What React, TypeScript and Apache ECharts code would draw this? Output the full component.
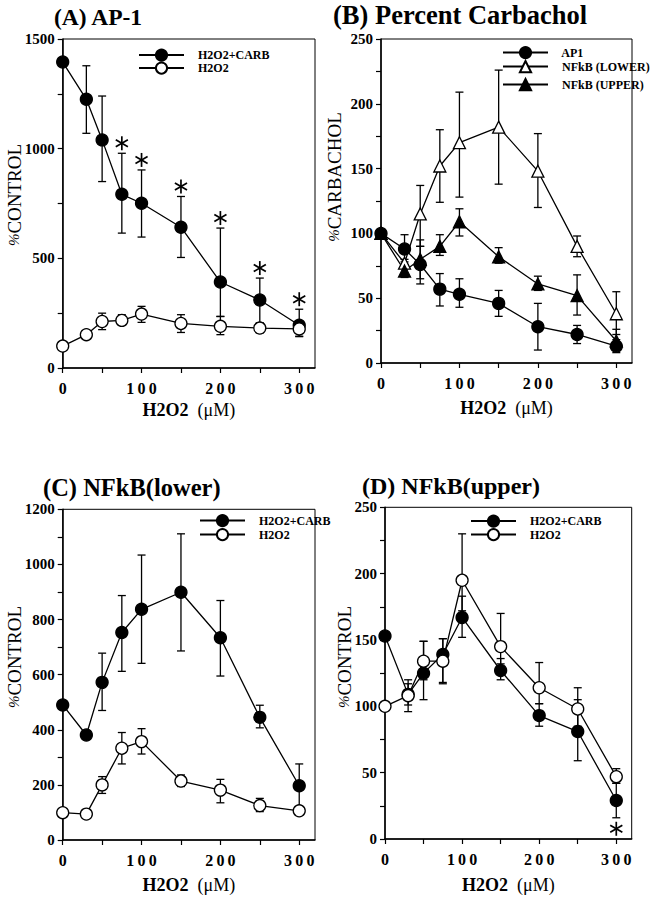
import React, { useEffect, useRef } from "react";
import * as echarts from "echarts";

// ---------- data ----------
const doses = [0, 30, 50, 75, 100, 150, 200, 250, 300];

// (A) AP-1, % control
const apCarb = [1395, 1225, 1040, 792, 751, 642, 392, 310, 195];
const apCarbHi = [1395, 1378, 1240, 979, 903, 782, 638, 410, 268];
const apCarbLo = [1395, 1070, 850, 615, 597, 504, 235, 205, 145];
const apH2o2 = [100, 152, 212, 217, 246, 203, 190, 182, 178];
const apH2o2Hi = [100, 170, 250, 243, 281, 243, 235, 205, 200];
const apH2o2Lo = [100, 140, 175, 197, 208, 162, 152, 160, 143];
const apStars = [75, 100, 150, 200, 250, 300];

// (B) Percent carbachol
const bAp1 = [100, 88, 76, 57, 53, 46, 28, 22, 13];
const bAp1Hi = [100, 99, 90, 69, 65, 56, 46, 29, 18];
const bAp1Lo = [100, 78, 61, 44, 43, 36, 10, 15, 8];
const bLower = [100, 77, 115, 152, 170, 182, 148, 90, 38];
const bLowerHi = [100, 80, 137, 180, 209, 226, 177, 98, 55];
const bLowerLo = [100, 74, 90, 124, 128, 138, 120, 82, 22];
const bUpper = [100, 71, 80, 90, 109, 82, 61, 52, 17];
const bUpperHi = [100, 76, 95, 99, 119, 89, 67, 68, 26];
const bUpperLo = [100, 66, 65, 83, 98, 77, 56, 37, 10];

// (C) NFkB(lower), % control
const cCarb = [490, 381, 572, 753, 837, 899, 734, 445, 197];
const cCarbHi = [490, 395, 678, 887, 1034, 1111, 869, 489, 276];
const cCarbLo = [490, 365, 470, 612, 641, 686, 595, 407, 118];
const cH2o2 = [99, 94, 200, 333, 357, 214, 181, 125, 106];
const cH2o2Hi = [99, 94, 230, 390, 404, 236, 220, 151, 106];
const cH2o2Lo = [99, 94, 169, 276, 312, 194, 135, 103, 106];

// (D) NFkB(upper), % control
const dCarb = [153, 109, 125, 139, 167, 127, 93, 81, 29];
const dCarbHi = [153, 117, 149, 151, 183, 136, 102, 105, 42];
const dCarbLo = [153, 101, 105, 117, 152, 120, 85, 59, 16];
const dH2o2 = [100, 108, 134, 134, 195, 145, 114, 98, 47];
const dH2o2Hi = [100, 120, 149, 151, 230, 170, 133, 114, 53];
const dH2o2Lo = [100, 96, 120, 118, 172, 132, 102, 85, 42];
const dStars = [300];

const xTicks = [0, 50, 100, 150, 200, 250, 300];

const panelTitles = ["(A) AP-1", "(B) Percent Carbachol", "(C) NFkB(lower)", "(D) NFkB(upper)"];
const yNames = ["CONTROL", "CARBACHOL", "CONTROL", "CONTROL"];

// ---------- helpers ----------
const SERIF = "Liberation Serif";

function errSeries(idx: number, lo: number[], hi: number[]) {
  return {
    type: "custom",
    xAxisIndex: idx,
    yAxisIndex: idx,
    z: 2,
    silent: true,
    data: doses.map((d, i) => [d, lo[i], hi[i]]),
    encode: { x: 0, y: [1, 2] },
    renderItem: (params: any, api: any) => {
      const x = api.value(0);
      const top = api.coord([x, api.value(2)]);
      const bot = api.coord([x, api.value(1)]);
      const cap = 4;
      const st = { stroke: "#000", lineWidth: 1.3 };
      return {
        type: "group",
        children: [
          { type: "line", shape: { x1: top[0], y1: top[1], x2: bot[0], y2: bot[1] }, style: st },
          { type: "line", shape: { x1: top[0] - cap, y1: top[1], x2: top[0] + cap, y2: top[1] }, style: st },
          { type: "line", shape: { x1: bot[0] - cap, y1: bot[1], x2: bot[0] + cap, y2: bot[1] }, style: st },
        ],
      };
    },
  };
}

// significance asterisks: six-armed stars drawn beside the error bar end
function starSeries(idx: number, xs: number[], ref: number[], offset: number) {
  return {
    type: "custom",
    xAxisIndex: idx,
    yAxisIndex: idx,
    z: 4,
    silent: true,
    data: xs.map((x) => [x, ref[doses.indexOf(x)]]),
    renderItem: (params: any, api: any) => {
      const p = api.coord([api.value(0), api.value(1)]);
      const cx = p[0];
      const cy = p[1] + offset;
      const r = 7;
      const st = { stroke: "#000", lineWidth: 1.7 };
      const children = [90, 30, 150].map((deg) => {
        const a = (deg * Math.PI) / 180;
        return {
          type: "line",
          shape: { x1: cx - r * Math.cos(a), y1: cy - r * Math.sin(a), x2: cx + r * Math.cos(a), y2: cy + r * Math.sin(a) },
          style: st,
        };
      });
      return { type: "group", children };
    },
  };
}

function lineSeries(idx: number, name: string, vals: number[], symbol: string, filled: boolean, size: number) {
  return {
    type: "line",
    name,
    xAxisIndex: idx,
    yAxisIndex: idx,
    z: 3,
    data: doses.map((d, i) => [d, vals[i]]),
    symbol,
    symbolSize: size,
    showAllSymbol: true,
    lineStyle: { color: "#000", width: 1.3 },
    itemStyle: { color: filled ? "#000" : "#fff", borderColor: "#000", borderWidth: 1.3 },
    emphasis: { disabled: true },
  };
}

const grids = [
  { left: 62.7, top: 39, width: 252.3, height: 329 },
  { left: 381, top: 39, width: 251, height: 324 },
  { left: 62.7, top: 509.3, width: 252.3, height: 330.7 },
  { left: 385, top: 507.3, width: 246.7, height: 331.7 },
];

const yCfg = [
  { max: 1500, interval: 250, labelStep: 500 },
  { max: 250, interval: 25, labelStep: 50 },
  { max: 1200, interval: 100, labelStep: 200 },
  { max: 250, interval: 25, labelStep: 50 },
];

const xNameGap = [33, 36, 36, 37];
const titlePos = [
  { x: 54, y: 17, size: 23.5 },
  { x: 333, y: 14.5, size: 26.5 },
  { x: 43, y: 487.5, size: 24.5 },
  { x: 362, y: 486, size: 24 },
];
const yNamePos = [
  { x: 14, y: 195 },
  { x: 334, y: 177 },
  { x: 14, y: 657 },
  { x: 344, y: 657 },
];

function makeOption() {
  const tickLabel = { fontFamily: SERIF, fontWeight: "bold", fontSize: 16, color: "#000" };
  const xAxis = grids.map((_, i) => ({
    type: "value",
    gridIndex: i,
    min: 0,
    max: 320,
    interval: 50,
    name: "{b|H2O2}  {r|(\u03bcM)}",
    nameLocation: "middle",
    nameGap: xNameGap[i],
    nameTextStyle: {
      fontFamily: SERIF,
      fontSize: 18,
      color: "#000",
      rich: {
        b: { fontFamily: SERIF, fontSize: 18, fontWeight: "bold", color: "#000" },
        r: { fontFamily: SERIF, fontSize: 18, color: "#000" },
      },
    },
    splitLine: { show: false },
    axisLine: { show: true, onZero: false, lineStyle: { color: "#000", width: 1.5 } },
    axisTick: { show: true, inside: false, length: 5, lineStyle: { color: "#000", width: 1.2 }, customValues: xTicks },
    axisLabel: {
      ...tickLabel,
      margin: 12,
      formatter: (v: number) => (v % 100 === 0 && v <= 300 ? String(v).split("").join("\u2009") : ""),
    },
  }));
  const yAxis = grids.map((_, i) => ({
    type: "value",
    gridIndex: i,
    min: 0,
    max: yCfg[i].max,
    interval: yCfg[i].interval,
    splitLine: { show: false },
    axisLine: { show: true, onZero: false, lineStyle: { color: "#000", width: 1.5 } },
    axisTick: { show: true, inside: false, length: 5, lineStyle: { color: "#000", width: 1.2 } },
    axisLabel: {
      ...tickLabel,
      fontSize: 15,
      margin: 8,
      formatter: (v: number) => (v % yCfg[i].labelStep === 0 ? String(v) : ""),
    },
  }));

  const legendItem = (name: string, left: number, centerY: number) => ({
    data: [name],
    left,
    top: centerY - 7,
    padding: 0,
    orient: "horizontal",
    itemWidth: 45,
    itemHeight: 14,
    selectedMode: false,
    formatter: (n: string) => "   " + n,
    textStyle: { fontFamily: SERIF, fontWeight: "bold", fontSize: 12, color: "#000" },
  });
  const legend = [
    legendItem("H2O2+CARB", 138, 55.5),
    legendItem("H2O2", 138, 68.5),
    legendItem("AP1", 502, 53),
    legendItem("NFkB (LOWER)", 502, 67),
    legendItem("NFkB (UPPER)", 502, 85),
    legendItem("H2O2+CARB", 199, 521),
    legendItem("H2O2", 199, 535),
    legendItem("H2O2+CARB", 470, 521.5),
    legendItem("H2O2", 470, 535),
  ];

  const graphic: any[] = [];
  panelTitles.forEach((t, i) => {
    const p = titlePos[i];
    graphic.push({
      type: "text",
      x: p.x,
      y: p.y,
      style: {
        text: t,
        font: "bold " + p.size + "px " + SERIF,
        fill: "#000",
        align: "left",
        verticalAlign: "middle",
      },
    });
  });
  yNames.forEach((t, i) => {
    const p = yNamePos[i];
    graphic.push({
      type: "text",
      x: p.x,
      y: p.y,
      rotation: Math.PI / 2,
      style: {
        text: "{p|%}{t|" + t + "}",
        align: "center",
        verticalAlign: "middle",
        fill: "#000",
        font: "19px " + SERIF,
        rich: {
          p: { fontSize: 15, fontFamily: SERIF, fontStyle: "italic", fill: "#000" },
          t: { fontSize: 19, fontFamily: SERIF, fill: "#000" },
        },
      },
    });
  });

  const series: any[] = [
    errSeries(0, apCarbLo, apCarbHi),
    errSeries(0, apH2o2Lo, apH2o2Hi),
    lineSeries(0, "H2O2+CARB", apCarb, "circle", true, 12),
    lineSeries(0, "H2O2", apH2o2, "circle", false, 12),
    starSeries(0, apStars, apCarbHi, -10),

    errSeries(1, bAp1Lo, bAp1Hi),
    errSeries(1, bLowerLo, bLowerHi),
    errSeries(1, bUpperLo, bUpperHi),
    lineSeries(1, "AP1", bAp1, "circle", true, 12),
    lineSeries(1, "NFkB (LOWER)", bLower, "triangle", false, 12),
    lineSeries(1, "NFkB (UPPER)", bUpper, "triangle", true, 12),

    errSeries(2, cCarbLo, cCarbHi),
    errSeries(2, cH2o2Lo, cH2o2Hi),
    lineSeries(2, "H2O2+CARB", cCarb, "circle", true, 12),
    lineSeries(2, "H2O2", cH2o2, "circle", false, 12),

    errSeries(3, dCarbLo, dCarbHi),
    errSeries(3, dH2o2Lo, dH2o2Hi),
    lineSeries(3, "H2O2+CARB", dCarb, "circle", true, 12),
    lineSeries(3, "H2O2", dH2o2, "circle", false, 12),
    starSeries(3, dStars, dCarbLo, 11),
  ];

  return {
    animation: false,
    backgroundColor: "#fff",
    textStyle: { fontFamily: SERIF },
    legend,
    graphic,
    grid: grids.map((g) => ({ ...g, show: true, borderColor: "#000", borderWidth: 1, backgroundColor: "transparent" })),
    xAxis,
    yAxis,
    series,
  };
}

export default function App() {
  const ref = useRef<HTMLDivElement>(null);
  useEffect(() => {
    if (!ref.current) return;
    const chart = echarts.init(ref.current, undefined, { renderer: "svg" });
    chart.setOption(makeOption() as any);
    return () => chart.dispose();
  }, []);
  return (
    <div
      ref={ref}
      style={{ position: "absolute", left: 0, top: 0, width: 660, height: 900, background: "#fff" }}
    />
  );
}
